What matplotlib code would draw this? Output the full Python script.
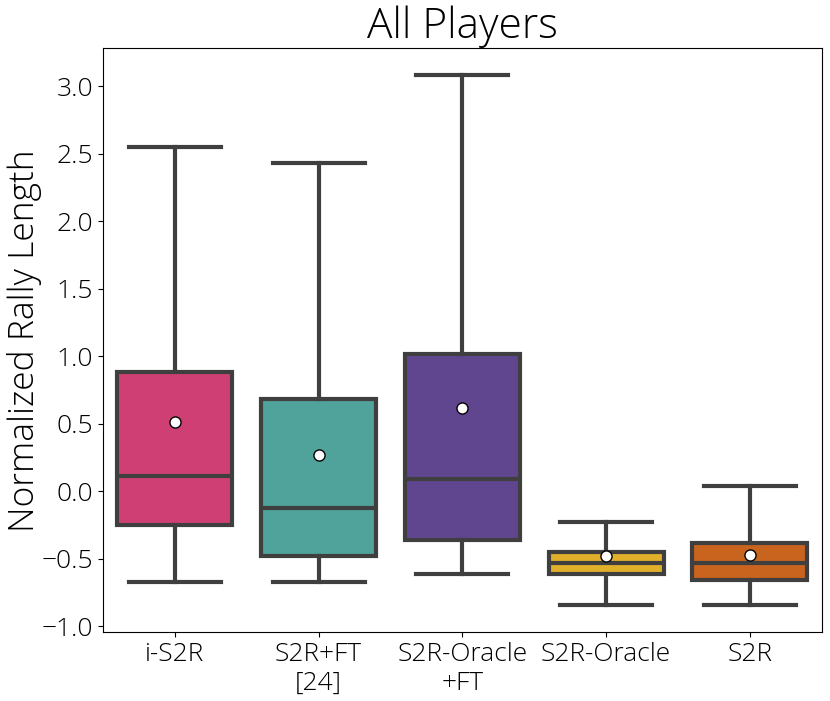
import matplotlib
matplotlib.use("Agg")
import matplotlib.pyplot as plt
from matplotlib import font_manager as fm

# ---------------------------
# Dane
# ---------------------------
labels = ["i-S2R", "S2R+FT\n[24]", "S2R-Oracle\n+FT", "S2R-Oracle", "S2R"]
whislo = [-0.67, -0.67, -0.61, -0.84, -0.84]
q1 = [-0.25, -0.48, -0.36, -0.61, -0.66]
med = [0.11, -0.12, 0.09, -0.53, -0.53]
q3 = [0.88, 0.68, 1.02, -0.45, -0.385]
whishi = [2.55, 2.43, 3.08, -0.23, 0.04]
means = [0.51, 0.27, 0.62, -0.48, -0.47]
colors = ["#D03F73", "#50A39B", "#5F468F", "#E0B02B", "#C9641E"]

# Open Sans Light, jeśli jest dostępny
light_path = None
for f in fm.fontManager.ttflist:
    if f.fname.endswith("OpenSans-Light.ttf"):
        light_path = f.fname
        break

def fp(size):
    if light_path:
        return fm.FontProperties(fname=light_path, size=size)
    return fm.FontProperties(family='Open Sans', weight='light', size=size)

fig = plt.figure(figsize=(8.3, 7.01), dpi=100)
ax = fig.add_axes([0.124, 0.098, 0.866, 0.833])

stats = []
for i in range(len(labels)):
    stats.append({'label': labels[i], 'whislo': whislo[i], 'q1': q1[i], 'med': med[i],
                  'q3': q3[i], 'whishi': whishi[i], 'mean': means[i], 'fliers': []})

line_c = "#3f3f3f"
bp = ax.bxp(stats, positions=range(len(labels)), widths=0.8, patch_artist=True,
            showmeans=True, showfliers=False,
            boxprops=dict(edgecolor=line_c, linewidth=3),
            medianprops=dict(color=line_c, linewidth=3),
            whiskerprops=dict(color=line_c, linewidth=3),
            capprops=dict(color=line_c, linewidth=3),
            meanprops=dict(marker='o', markerfacecolor='white', markeredgecolor='black',
                           markersize=8, markeredgewidth=1))
for patch, c in zip(bp['boxes'], colors):
    patch.set_facecolor(c)
for cap in bp['caps']:
    xd = cap.get_xdata()
    mid = (xd[0] + xd[1]) / 2
    cap.set_xdata([mid - 0.32, mid + 0.32])

ax.set_xlim(-0.5, 4.5)
ax.set_ylim(-1.044, 3.28)
yt = [-1.0, -0.5, 0.0, 0.5, 1.0, 1.5, 2.0, 2.5, 3.0]
ax.set_yticks(yt)
ax.set_yticklabels([f"{v:.1f}".replace("-", "\u2212") for v in yt], fontproperties=fp(19))
ax.set_xticks(range(len(labels)))
ax.set_xticklabels(labels, fontproperties=fp(19))
ax.set_ylabel("Normalized Rally Length", fontproperties=fp(25.5), labelpad=0)
ax.set_title("All Players", fontproperties=fp(30.5), pad=5)

fig.savefig("out.png", dpi=100)
